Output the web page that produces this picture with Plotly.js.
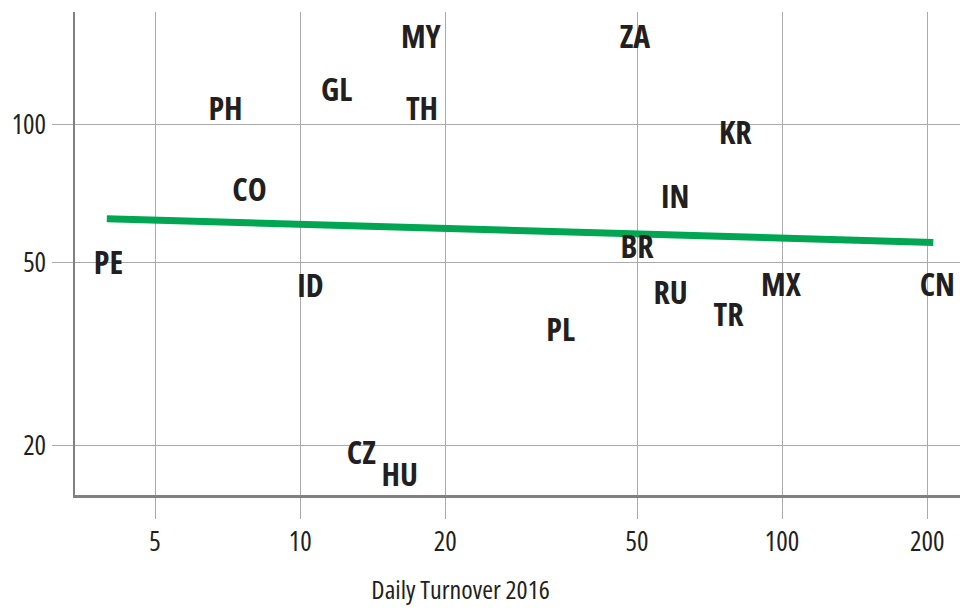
<!DOCTYPE html>
<html>
<head>
<meta charset="utf-8">
<script src="https://cdn.plot.ly/plotly-3.0.1.min.js"></script>
<style>
html,body{margin:0;padding:0;background:#fff;}
#chart{width:960px;height:608px;}
#chart text{font-stretch:75% !important;}
</style>
</head>
<body>
<div id="chart"></div>
<script>
const codes = ['PE','PH','GL','MY','TH','CO','ID','ZA','KR','IN','BR','MX','CN','RU','TR','PL','CZ','HU'];
const turnover = [4.0, 7.0, 11.9, 17.8, 17.9, 7.85, 10.5, 49.5, 80, 60, 50, 99.5, 210, 58.7, 77.4, 34.7, 13.4, 16.1];
const yValues = [49.3, 106.4, 117.2, 152.7, 106.4, 70.9, 43.8, 152.7, 94.6, 68.5, 53.2, 44.0, 44.0, 42.4, 38.0, 35.1, 19.0, 17.0];
const trendX = [3.97, 206];
const trendY = [62.4, 55.4];
const xTicks = [5, 10, 20, 50, 100, 200];
const yTicks = [20, 50, 100];
const xTitle = 'Daily Turnover 2016';

const FONT = '"Open Sans", sans-serif';
const traces = [
  {
    x: trendX, y: trendY, mode: 'lines', type: 'scatter',
    line: {color: '#00a651', width: 7}, hoverinfo: 'skip', showlegend: false
  },
  {
    x: turnover, y: yValues, text: codes, mode: 'text', type: 'scatter',
    textposition: 'middle center',
    textfont: {family: FONT, size: 32, color: '#231f20', weight: 700},
    showlegend: false
  }
];
const layout = {
  width: 960, height: 608,
  margin: {l: 75, r: 0, t: 12, b: 113},
  paper_bgcolor: '#ffffff', plot_bgcolor: '#ffffff',
  font: {family: FONT, size: 27, color: '#231f20'},
  showlegend: false,
  xaxis: {
    type: 'log', range: [Math.log10(3.41), Math.log10(234)],
    tickvals: xTicks, ticktext: xTicks.map(String),
    showgrid: true, gridcolor: '#aaaaaa', gridwidth: 1,
    ticks: 'outside', ticklen: 21, tickcolor: '#aaaaaa', tickwidth: 1,
    showline: true, linecolor: '#808083', linewidth: 2.5,
    zeroline: false,
    tickfont: {family: FONT, size: 27, color: '#231f20'}
  },
  yaxis: {
    type: 'log', range: [Math.log10(15.6), Math.log10(176)],
    tickvals: yTicks, ticktext: yTicks.map(String),
    showgrid: true, gridcolor: '#aaaaaa', gridwidth: 1,
    ticks: 'outside', ticklen: 21, tickcolor: '#aaaaaa', tickwidth: 1,
    showline: true, linecolor: '#808083', linewidth: 2.5,
    zeroline: false,
    tickfont: {family: FONT, size: 27, color: '#231f20'}
  },
  annotations: [{
    text: xTitle, xref: 'paper', yref: 'paper',
    x: 0.436, y: -0.194, xanchor: 'center', yanchor: 'middle',
    showarrow: false, borderpad: 0,
    font: {family: FONT, size: 26, color: '#231f20'}
  }]
};
Plotly.newPlot('chart', traces, layout, {displayModeBar: false, staticPlot: true});
</script>
</body>
</html>
